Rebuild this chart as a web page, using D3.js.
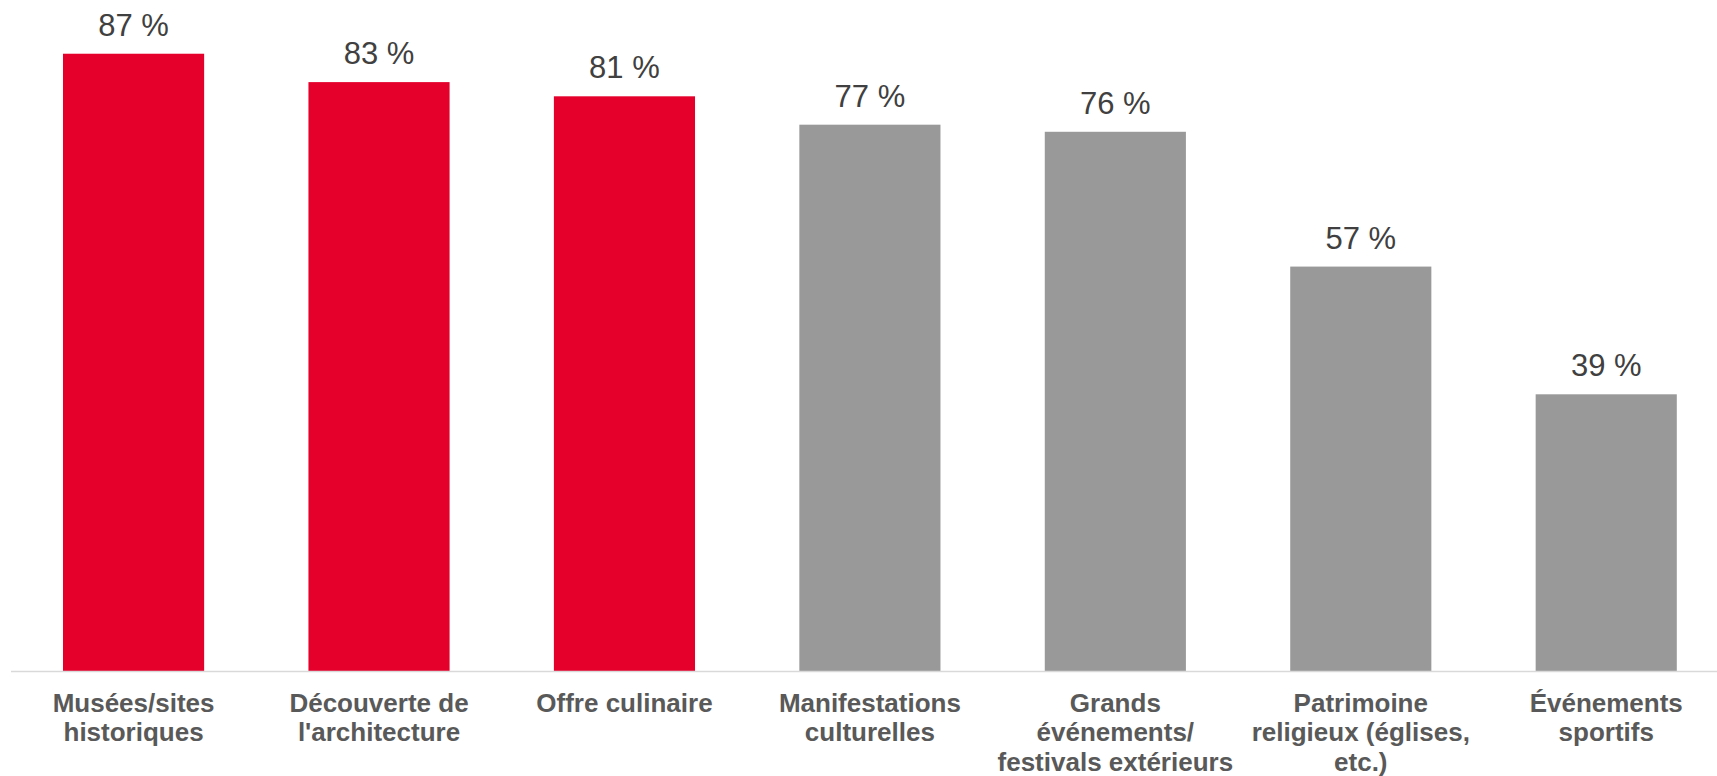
<!DOCTYPE html>
<html>
<head>
<meta charset="utf-8">
<script src="https://cdn.jsdelivr.net/npm/d3@7"></script>
<style>
  html, body { margin: 0; padding: 0; background: #fff; }
  svg { display: block; font-family: "Liberation Sans", Arial, sans-serif; }
</style>
</head>
<body>
<svg id="chart" width="1717" height="776"></svg>
<script>
const categories = [
  ["Musées/sites", "historiques"],
  ["Découverte de", "l'architecture"],
  ["Offre culinaire"],
  ["Manifestations", "culturelles"],
  ["Grands", "événements/", "festivals extérieurs"],
  ["Patrimoine", "religieux (églises,", "etc.)"],
  ["Événements", "sportifs"]
];
const values = [87, 83, 81, 77, 76, 57, 39];
const highlighted = [true, true, true, false, false, false, false];

const svg = d3.select("#chart");
const W = 1717, H = 776;
const baseY = 671;

const x = d3.scaleBand()
  .domain(d3.range(values.length))
  .range([10.8, 1729])
  .paddingInner(0.425)
  .paddingOuter(0.2127);

const y = d3.scaleLinear().domain([0, 100]).range([baseY, baseY - 709.5]);

// bars
svg.append("g").selectAll("rect")
  .data(values)
  .join("rect")
  .attr("x", (d, i) => x(i))
  .attr("width", x.bandwidth())
  .attr("y", d => y(d))
  .attr("height", d => y(0) - y(d))
  .attr("fill", (d, i) => highlighted[i] ? "#E4002B" : "#999999");

// axis line
svg.append("line")
  .attr("x1", 11).attr("x2", W)
  .attr("y1", baseY + 0.5).attr("y2", baseY + 0.5)
  .attr("stroke", "#D9D9D9").attr("stroke-width", 1.5);

// value labels
svg.append("g").selectAll("text")
  .data(values)
  .join("text")
  .attr("x", (d, i) => x(i) + x.bandwidth() / 2)
  .attr("y", d => y(d) - 18)
  .attr("text-anchor", "middle")
  .attr("font-size", 31)
  .attr("fill", "#404040")
  .text(d => d + " %");

// category labels
const lab = svg.append("g").selectAll("text")
  .data(categories)
  .join("text")
  .attr("text-anchor", "middle")
  .attr("font-size", 26)
  .attr("font-weight", "bold")
  .attr("fill", "#595959");
lab.each(function(lines, i) {
  d3.select(this).selectAll("tspan")
    .data(lines)
    .join("tspan")
    .attr("x", x(i) + x.bandwidth() / 2)
    .attr("y", (l, j) => baseY + 40.5 + j * 29.5)
    .text(l => l);
});
</script>
</body>
</html>
